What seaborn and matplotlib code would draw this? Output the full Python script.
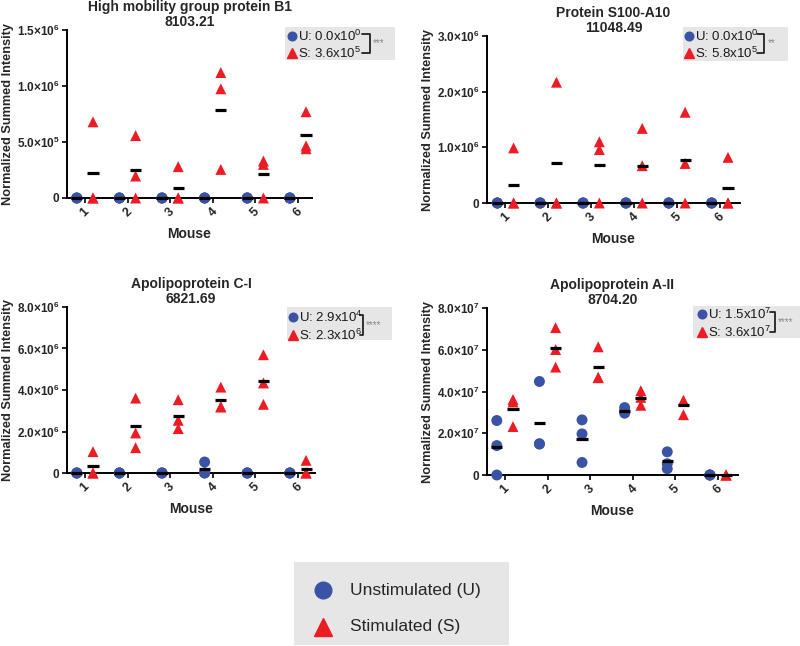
import numpy as np
import pandas as pd
import matplotlib
matplotlib.use("Agg")
import matplotlib.pyplot as plt
import seaborn as sns
from matplotlib.lines import Line2D
from matplotlib.patches import Rectangle

sns.set_theme(style="ticks")
plt.rcParams['font.family'] = ['Liberation Sans', 'DejaVu Sans']
plt.rcParams['mathtext.fontset'] = 'custom'
plt.rcParams['mathtext.rm'] = 'Liberation Sans'
plt.rcParams['mathtext.bf'] = 'Liberation Sans:bold'
plt.rcParams['mathtext.default'] = 'rm'

# ---------------- data ----------------
mice = [1, 2, 3, 4, 5, 6]
groups = ["U", "S"]

titles = ["High mobility group protein B1\n8103.21",
          "Protein S100-A10\n11048.49",
          "Apolipoprotein C-I\n6821.69",
          "Apolipoprotein A-II\n8704.20"]

hmgb1_U = [[0, 0, 0], [0, 0, 0], [0, 0, 0], [0, 0, 0], [0, 0, 0], [0, 0, 0]]
hmgb1_S = [[0.68e6, 0, 0], [0.557e6, 0.196e6, 0], [0.28e6, 0, 0],
           [1.12e6, 0.975e6, 0.255e6], [0.33e6, 0.30e6, 0], [0.77e6, 0.465e6, 0.44e6]]

s100_U = [[0, 0, 0], [0, 0, 0], [0, 0, 0], [0, 0, 0], [0, 0, 0], [0, 0, 0]]
s100_S = [[0.99e6, 0, 0], [2.17e6, 0, 0], [1.10e6, 0.96e6, 0],
          [1.34e6, 0.67e6, 0], [1.63e6, 0.71e6, 0], [0.82e6, 0, 0]]

apoc_U = [[0, 0, 0], [0, 0, 0], [0, 0, 0], [0.53e6, 0, 0], [0, 0, 0], [0, 0, 0]]
apoc_S = [[1.03e6, 0, 0], [3.61e6, 1.93e6, 1.22e6], [3.53e6, 2.54e6, 2.14e6],
          [4.14e6, 3.20e6, 3.18e6], [5.70e6, 4.34e6, 3.31e6], [0.61e6, 0, 0]]

apoa_U = [[2.61e7, 1.41e7, 0], [4.48e7, 1.50e7, 1.48e7], [2.64e7, 1.97e7, 0.60e7],
          [3.23e7, 2.96e7, 3.05e7], [1.11e7, 0.54e7, 0.30e7], [0, 0, 0]]
apoa_S = [[3.62e7, 3.50e7, 2.32e7], [7.06e7, 6.01e7, 5.17e7], [6.14e7, 4.68e7, 4.66e7],
          [4.04e7, 3.72e7, 3.34e7], [3.58e7, 3.55e7, 2.89e7], [0, 0, 0]]

yticks_list = [[0, 5e5, 1e6, 1.5e6],
               [0, 1e6, 2e6, 3e6],
               [0, 2e6, 4e6, 6e6, 8e6],
               [0, 2e7, 4e7, 6e7, 8e7]]
ytick_labels = [["0", r"5.0×10$^{\mathbf{5}}$", r"1.0×10$^{\mathbf{6}}$", r"1.5×10$^{\mathbf{6}}$"],
                ["0", r"1.0×10$^{\mathbf{6}}$", r"2.0×10$^{\mathbf{6}}$", r"3.0×10$^{\mathbf{6}}$"],
                ["0", r"2.0×10$^{\mathbf{6}}$", r"4.0×10$^{\mathbf{6}}$", r"6.0×10$^{\mathbf{6}}$", r"8.0×10$^{\mathbf{6}}$"],
                ["0", r"2.0×10$^{\mathbf{7}}$", r"4.0×10$^{\mathbf{7}}$", r"6.0×10$^{\mathbf{7}}$", r"8.0×10$^{\mathbf{7}}$"]]

summary_U = [r"U: 0.0x10$^{0}$", r"U: 0.0x10$^{0}$", r"U: 2.9x10$^{4}$", r"U: 1.5x10$^{7}$"]
summary_S = [r"S: 3.6x10$^{5}$", r"S: 5.8x10$^{5}$", r"S: 2.3x10$^{6}$", r"S: 3.6x10$^{7}$"]
signif = ["***", "**", "****", "****"]

legend_labels = ["Unstimulated (U)", "Stimulated (S)"]

# ---------------- style / layout ----------------
BLUE = "#3A53A4"
RED = "#EC1C24"
W, H = 800, 646
fig = plt.figure(figsize=(W / 100, H / 100), dpi=100)

# axes rectangles in pixels: left, top, right, bottom
rects = [(67, 30, 312, 198), (487, 36, 740, 203), (67, 307, 315, 473), (487, 308, 738, 475)]
xlims = [(0.58, 6.33), (0.57, 6.47), (0.58, 6.40), (0.58, 6.47)]
offset = 0.19
# inset legend geometry (pixels)
insets = [dict(box=(285, 27, 395, 60), mx=292, tx=298, te=362, bx=370, sx=373, yu=36, ys=53),
          dict(box=(683, 27, 788, 61), mx=689, tx=695, te=757, bx=764, sx=768, yu=36, ys=53),
          dict(box=(287, 307, 392, 340), mx=293, tx=299, te=360, bx=363, sx=366, yu=317, ys=335),
          dict(box=(693, 306, 800, 338), mx=702, tx=708, te=770, bx=775, sx=778, yu=314, ys=332)]

data_U = [hmgb1_U, s100_U, apoc_U, apoa_U]
data_S = [hmgb1_S, s100_S, apoc_S, apoa_S]


def fx(x):
    return x / W


def fy(y):
    return 1 - y / H


for i in range(4):
    l, t, r, b = rects[i]
    ax = fig.add_axes([fx(l), fy(b), (r - l) / W, (b - t) / H])
    rows = []
    for g, arr in (("U", data_U[i]), ("S", data_S[i])):
        for m, vals in zip(mice, arr):
            for v in vals:
                rows.append(dict(mouse=m, group=g, value=v,
                                 xpos=m + (-offset if g == "U" else offset)))
    df = pd.DataFrame(rows)
    sns.scatterplot(data=df, x="xpos", y="value", hue="group", style="group",
                    hue_order=groups, style_order=groups,
                    palette={"U": BLUE, "S": RED}, markers={"U": "o", "S": "^"},
                    s=62, linewidth=0, ax=ax, legend=False, clip_on=False, zorder=3)
    means = df.groupby(["group", "mouse"])["value"].mean().reset_index()
    for _, row in means.iterrows():
        xc = row["mouse"] + (-offset if row["group"] == "U" else offset)
        ax.hlines(row["value"], xc - 0.13, xc + 0.13, color="black", lw=2.3,
                  zorder=4, clip_on=False)
    ax.set_xlim(*xlims[i])
    ax.set_ylim(0, yticks_list[i][-1])
    ax.set_xticks(mice)
    ax.set_xticklabels([str(m) for m in mice], rotation=45, fontweight="bold",
                       fontsize=9, ha="center", va="top")
    ax.set_yticks(yticks_list[i])
    ax.set_yticklabels(ytick_labels[i], fontweight="bold", fontsize=8.5)
    ax.tick_params(axis="both", length=3.5, width=1.2, color="black", pad=2)
    for sp in ("left", "bottom"):
        ax.spines[sp].set_linewidth(1.4)
        ax.spines[sp].set_color("black")
    sns.despine(ax=ax)
    ax.set_xlabel("Mouse", fontweight="bold", fontsize=10, labelpad=6)
    ax.set_ylabel("Normalized Summed Intensity", fontweight="bold", fontsize=9.2, labelpad=2)
    ax.set_title(titles[i], fontweight="bold", fontsize=10, pad=3, linespacing=1.1)

    # inset summary legend
    d = insets[i]
    x0, y0, x1, y1 = d["box"]
    fig.add_artist(Rectangle((fx(x0), fy(y1)), (x1 - x0) / W, (y1 - y0) / H,
                             transform=fig.transFigure, facecolor="#E6E6E6",
                             edgecolor="none", zorder=5))
    fig.add_artist(Line2D([fx(d["mx"])], [fy(d["yu"])], marker="o", markersize=6.2,
                          color=BLUE, transform=fig.transFigure, zorder=6))
    fig.add_artist(Line2D([fx(d["mx"])], [fy(d["ys"])], marker="^", markersize=6.5,
                          color=RED, transform=fig.transFigure, zorder=6))
    fig.text(fx(d["tx"]), fy(d["yu"]), summary_U[i], fontsize=9.5, va="center",
             ha="left", zorder=6, color="#1a1a1a")
    fig.text(fx(d["tx"]), fy(d["ys"]), summary_S[i], fontsize=9.5, va="center",
             ha="left", zorder=6, color="#1a1a1a")
    fig.add_artist(Line2D([fx(d["te"]), fx(d["bx"]), fx(d["bx"]), fx(d["te"])],
                          [fy(d["yu"] - 2), fy(d["yu"] - 2), fy(d["ys"]), fy(d["ys"])],
                          color="#222222", lw=1.3, transform=fig.transFigure, zorder=6))
    fig.text(fx(d["sx"]), fy((d["yu"] + d["ys"]) / 2 - 1), signif[i], fontsize=7,
             color="#888888", va="center", ha="left", zorder=6)

# bottom legend
fig.add_artist(Rectangle((fx(294), fy(645)), (509 - 294) / W, (645 - 562) / H,
                         transform=fig.transFigure, facecolor="#E6E6E6",
                         edgecolor="none", zorder=5))
fig.add_artist(Line2D([fx(323)], [fy(590)], marker="o", markersize=12, color=BLUE,
                      transform=fig.transFigure, zorder=6))
fig.add_artist(Line2D([fx(323)], [fy(627)], marker="^", markersize=13, color=RED,
                      transform=fig.transFigure, zorder=6))
fig.text(fx(350), fy(590), legend_labels[0], fontsize=12.5, va="center", ha="left", zorder=6)
fig.text(fx(350), fy(627), legend_labels[1], fontsize=12.5, va="center", ha="left", zorder=6)

fig.savefig("out.png", dpi=100)
